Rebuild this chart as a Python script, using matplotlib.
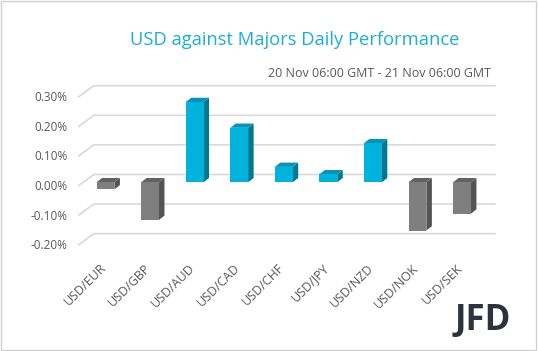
import matplotlib.pyplot as plt
from matplotlib.patches import Polygon, Rectangle
from matplotlib.transforms import Affine2D

# USD vs majors, % change (20 Nov 06:00 GMT - 21 Nov 06:00 GMT)
pairs = ['USD/EUR', 'USD/GBP', 'USD/AUD', 'USD/CAD', 'USD/CHF',
         'USD/JPY', 'USD/NZD', 'USD/NOK', 'USD/SEK']
changes = [-0.024, -0.127, 0.271, 0.184, 0.052, 0.027, 0.132, -0.163, -0.106]
yticks = [-0.2, -0.1, 0.0, 0.1, 0.2, 0.3]
ytick_labels = ['-0.20%', '-0.10%', '0.00%', '0.10%', '0.20%', '0.30%']

UP = ('#00B2DC', '#0A93B4', '#00788F')     # front, top, side
DOWN = ('#7F7F7F', '#626262', '#545454')
GRID = '#D9D9D9'
TXT = '#595959'

fig = plt.figure(figsize=(5.38, 3.51), dpi=100)
ax = fig.add_axes([0.1547, 0.312, 0.7455, 0.4217])
ax.set_xlim(-0.5, len(pairs) - 0.5)
ax.set_ylim(-0.2, 0.3)
ax.axis('off')

# fake depth, in pixels
def shift(dx, dy):
    return ax.transData + Affine2D().translate(dx, dy)

back = shift(10.6, 7.8)
front_wall = shift(-4.4, -3.2)
for t, lab in zip(yticks, ytick_labels):
    p0 = front_wall.transform((-0.5, t))
    p1 = back.transform((-0.5, t))
    p2 = back.transform((len(pairs) - 0.5, t))
    ax.plot([p0[0], p1[0], p2[0]], [p0[1], p1[1], p2[1]], color=GRID,
            lw=1.2, transform=None, clip_on=False, zorder=0)
    ax.text(-0.5, t, lab, transform=shift(-16, -4.2), ha='right',
            va='center', fontsize=8.5, color=TXT, family='Open Sans')

w = 0.40
ddx = 5.5 / 44.56
ddy = 4.3 / 296.0
for i, v in enumerate(changes):
    front, top, side = UP if v >= 0 else DOWN
    lo, hi = min(0, v), max(0, v)
    ax.add_patch(Polygon([(i + w / 2, lo), (i + w / 2 + ddx, lo + ddy),
                          (i + w / 2 + ddx, hi + ddy), (i + w / 2, hi)],
                         closed=True, fc=side, ec='none', zorder=2))
    ax.add_patch(Polygon([(i - w / 2, hi), (i - w / 2 + ddx, hi + ddy),
                          (i + w / 2 + ddx, hi + ddy), (i + w / 2, hi)],
                         closed=True, fc=top, ec='none', zorder=2))
    ax.bar(i, v, width=w, color=front, zorder=3)
    ax.text(i, -0.2, pairs[i], transform=shift(-6, -20), rotation=45,
            ha='right', va='top', rotation_mode='anchor', fontsize=9,
            color=TXT, family='Open Sans')

fig.text(0.548, 0.885, 'USD against Majors Daily Performance', ha='center',
         va='center', fontsize=13.2, color='#1BAFD7', family='Open Sans')
fig.text(0.912, 0.79, '20 Nov 06:00 GMT - 21 Nov 06:00 GMT', ha='right',
         va='center', fontsize=9, color=TXT, family='Open Sans')
fig.text(0.898, 0.085, 'JFD', ha='center', va='center', fontsize=25,
         fontweight='bold', color='#2B333D', family='Open Sans')

fig.patches.append(Rectangle((0.002, 0.003), 0.995, 0.994, transform=fig.transFigure,
                             fill=False, ec='#D0D0D0', lw=1))

fig.savefig('out.png', dpi=100, facecolor='white')
